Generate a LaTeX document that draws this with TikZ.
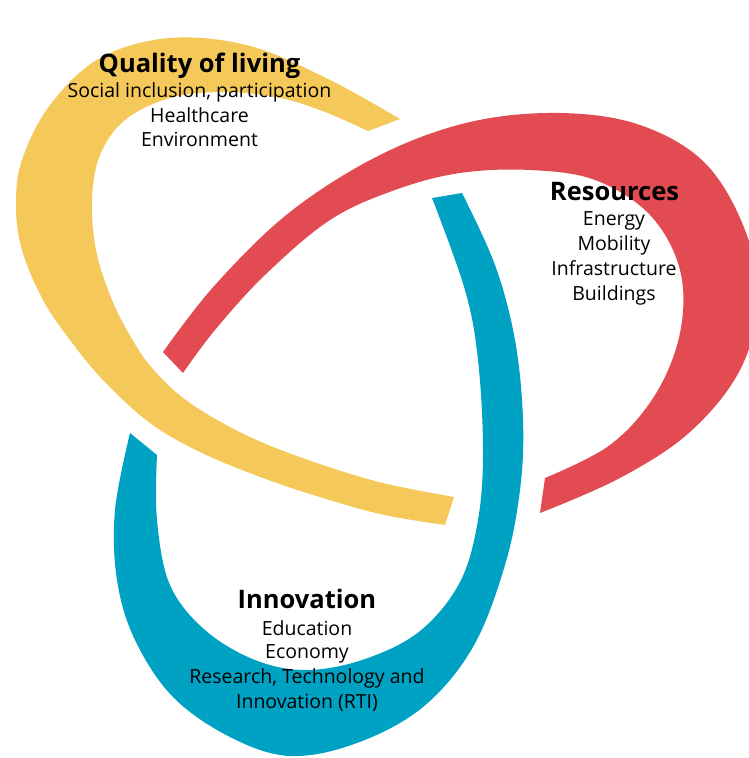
\documentclass[tikz,border=0pt]{standalone}
\usepackage{fontspec}
\setmainfont{Open Sans}
\definecolor{ringyellow}{HTML}{F5C85A}
\definecolor{ringred}{HTML}{E24B51}
\definecolor{ringblue}{HTML}{00A2C4}
\tikzset{
  head/.style={anchor=base, inner sep=0pt, font=\fontsize{25.5}{25}\selectfont\bfseries},
  item/.style={anchor=base, inner sep=0pt, font=\fontsize{19.5}{25}\selectfont},
  edge/.style={smooth, tension=0.6}
}
\begin{document}
\begin{tikzpicture}[x=1pt,y=-1pt]
\useasboundingbox (0,0) rectangle (749,758);
\clip (0,0) rectangle (749,758);

% Quality of living band (yellow)
\fill[ringyellow] plot[edge] coordinates {(400,119) (330,80) (250,46) (170,38) (100,58) (50,105) (22,160) (16,205) (22,250) (43,300) (70,340) (103,380) (150,423) (200,452) (255,475) (310,494) (380,514) (445,525)}
  -- plot[edge] coordinates {(454,497) (383,483) (317,463) (250,437) (190,403) (152,368) (128,332) (110,295) (96,250) (92,200) (100,155) (125,120) (170,98) (225,92) (280,98) (325,112) (368,131)}
  -- cycle;

% Resources band (red)
\fill[ringred] plot[edge] coordinates {(163,352) (215,285) (290,212) (380,155) (470,122) (560,113) (640,125) (705,163) (745,230) (758,300) (740,370) (690,432) (620,478) (540,513)}
  -- plot[edge] coordinates {(545,478) (610,445) (655,395) (680,333) (680,270) (650,215) (595,180) (530,170) (460,173) (395,190) (330,220) (265,275) (215,330) (183,373)}
  -- cycle;

% Innovation band (blue)
\fill[ringblue] plot[edge] coordinates {(462,193) (495,265) (515,340) (523,420) (520,490) (505,565) (473,647) (423,707) (357,743) (290,756) (230,737) (173,697) (135,640) (117,580) (115,510) (130,433)}
  -- plot[edge] coordinates {(157,455) (157,520) (170,585) (205,630) (255,660) (307,670) (365,659) (420,631) (460,582) (478,520) (483,450) (478,360) (465,290) (432,198)}
  -- cycle;

% Labels: Quality of living
\node[head] (qtitle) at (199.5,72) {Quality of living};
\node[item] (q1) at (199.5,97) {Social inclusion, participation};
\node[item] (q2) at (199.5,122) {Healthcare};
\node[item] (q3) at (199.5,146) {Environment};

% Labels: Resources
\node[head] (rtitle) at (614.5,200) {Resources};
\node[item] (r1) at (614,225) {Energy};
\node[item] (r2) at (614,250) {Mobility};
\node[item] (r3) at (614,275) {Infrastructure};
\node[item] (r4) at (614,300) {Buildings};

% Labels: Innovation
\node[head] (ititle) at (307,608) {Innovation};
\node[item] (i1) at (307,635) {Education};
\node[item] (i2) at (307,658) {Economy};
\node[item] (i3) at (307,683) {Research, Technology and};
\node[item] (i4) at (307,708) {Innovation (RTI)};
\end{tikzpicture}
\end{document}
